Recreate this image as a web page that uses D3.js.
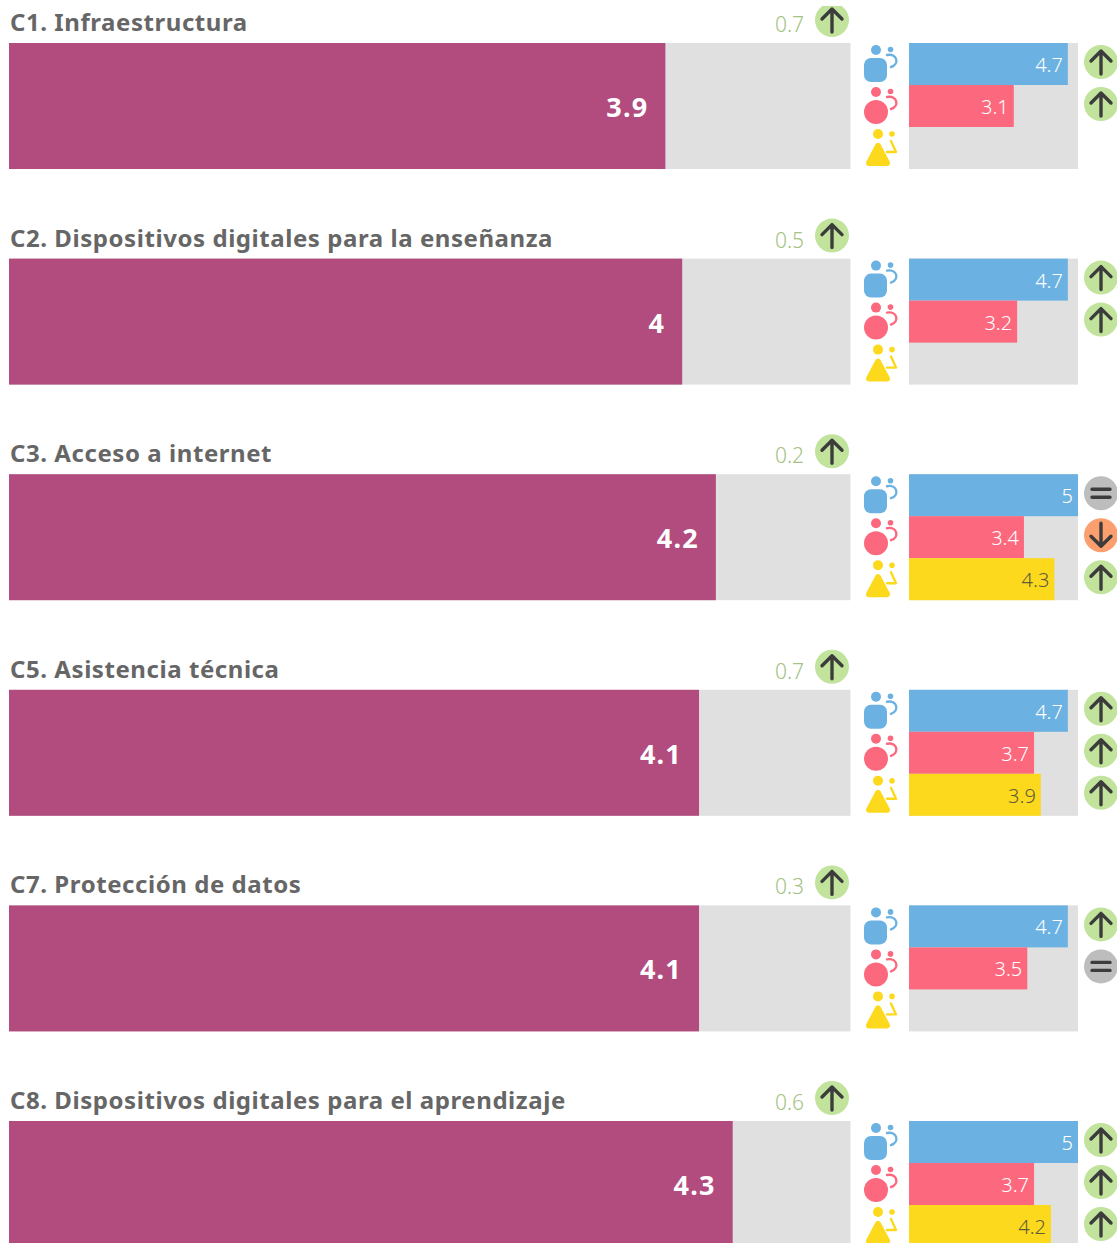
<!DOCTYPE html>
<html>
<head>
<meta charset="utf-8">
<script src="https://cdnjs.cloudflare.com/ajax/libs/d3/7.8.5/d3.min.js"></script>
<style>
  html, body { margin: 0; padding: 0; background: #fff; overflow: hidden; }
  svg { display: block; }
  text { font-family: "Noto Sans", "Open Sans", sans-serif; }
</style>
</head>
<body>
<svg width="1117" height="1243"></svg>
<script>
document.addEventListener("DOMContentLoaded", function () {

  var categories = [
    "C1. Infraestructura",
    "C2. Dispositivos digitales para la enseñanza",
    "C3. Acceso a internet",
    "C5. Asistencia técnica",
    "C7. Protección de datos",
    "C8. Dispositivos digitales para el aprendizaje"
  ];
  var overall = [3.9, 4, 4.2, 4.1, 4.1, 4.3];
  var change = [0.7, 0.5, 0.2, 0.7, 0.3, 0.6];
  var changeDir = ["up", "up", "up", "up", "up", "up"];

  var groups = ["blue", "pink", "yellow"];
  var blueValues = [4.7, 4.7, 5, 4.7, 4.7, 5];
  var pinkValues = [3.1, 3.2, 3.4, 3.7, 3.5, 3.7];
  var yellowValues = [null, null, 4.3, 3.9, null, 4.2];
  var blueDir = ["up", "up", "same", "up", "up", "up"];
  var pinkDir = ["up", "up", "down", "up", "same", "up"];
  var yellowDir = [null, null, "up", "up", null, "up"];

  var groupColor = d3.scaleOrdinal()
    .domain(groups)
    .range(["#6bb2e3", "#fc687d", "#fcd91c"]);
  var badgeColor = d3.scaleOrdinal()
    .domain(["up", "same", "down"])
    .range(["#c1e39c", "#bdbdbd", "#fb9f6f"]);

  var rowY = d3.scalePoint().domain(categories).range([43, 1121]);
  var xMain = d3.scaleLinear().domain([0, 5]).range([9, 850.5]);
  var xSub = d3.scaleLinear().domain([0, 5]).range([909, 1078]);
  var ySub = d3.scaleBand().domain(groups).range([0, 126]);

  var svg = d3.select("svg");

  var rows = svg.selectAll("g.row")
    .data(categories)
    .enter()
    .append("g")
    .attr("class", "row")
    .attr("transform", function (d) {
      return "translate(0," + rowY(d) + ")";
    });

  rows.append("text")
    .attr("x", 10)
    .attr("y", -12)
    .attr("font-size", 24)
    .attr("font-weight", 700)
    .attr("letter-spacing", 0.56)
    .attr("fill", "#666666")
    .text(function (d) { return d; });

  rows.append("rect")
    .attr("x", xMain(0))
    .attr("width", xMain(5) - xMain(0))
    .attr("height", 126)
    .attr("fill", "#e0e0e0");

  rows.append("rect")
    .attr("x", xMain(0))
    .attr("width", function (d, i) { return xMain(overall[i]) - xMain(0); })
    .attr("height", 126)
    .attr("fill", "#b24c7e");

  rows.append("text")
    .attr("x", function (d, i) { return xMain(overall[i]) - 17; })
    .attr("y", 74)
    .attr("text-anchor", "end")
    .attr("font-size", 27)
    .attr("font-weight", 700)
    .attr("letter-spacing", 1.2)
    .attr("fill", "#fff")
    .text(function (d, i) { return overall[i]; });

  rows.append("text")
    .attr("x", 775)
    .attr("y", -11)
    .attr("font-size", 21)
    .attr("font-weight", 300)
    .attr("fill", "#a3c283")
    .text(function (d, i) { return change[i]; });

  rows.append("rect")
    .attr("x", xSub(0))
    .attr("width", xSub(5) - xSub(0))
    .attr("height", 126)
    .attr("fill", "#e0e0e0");

  rows.each(function (d, i) {
    var row = d3.select(this);
    badge(row, 832, -23, changeDir[i]);

    var vals = [blueValues[i], pinkValues[i], yellowValues[i]];
    var dirs = [blueDir[i], pinkDir[i], yellowDir[i]];

    groups.forEach(function (g, k) {
      var top = ySub(g);
      icon(row, g, top);
      if (vals[k] === null) return;
      row.append("rect")
        .attr("x", xSub(0))
        .attr("y", top)
        .attr("width", xSub(vals[k]) - xSub(0))
        .attr("height", ySub.bandwidth())
        .attr("fill", groupColor(g));
      row.append("text")
        .attr("x", xSub(vals[k]) - 5)
        .attr("y", top + 29)
        .attr("text-anchor", "end")
        .attr("font-size", 20)
        .attr("font-weight", 300)
        .attr("fill", g === "yellow" ? "#5f5c3c" : "#fff")
        .text(vals[k]);
      badge(row, 1101, top + 19, dirs[k]);
    });
  });

  // the source image is cut just above the first badge
  svg.append("rect")
    .attr("width", 1117)
    .attr("height", 6)
    .attr("fill", "#fff");

  // round green/grey/orange marker with the arrow or equals sign
  function badge(parent, cx, cy, dir) {
    var b = parent.append("g").attr("transform", "translate(" + cx + "," + cy + ")");
    b.append("circle").attr("r", 17).attr("fill", badgeColor(dir));
    var d;
    if (dir === "up") d = "M0 12V-11M-10 -1L0 -11L10 -1";
    else if (dir === "down") d = "M0 -12V11M-10 1L0 11L10 1";
    else d = "M-9 -4H9M-9 4H9";
    b.append("path")
      .attr("d", d)
      .attr("fill", "none")
      .attr("stroke", "#3c3c3c")
      .attr("stroke-width", 3.4)
      .attr("stroke-linecap", "round")
      .attr("stroke-linejoin", "round");
  }

  // the three little people pictograms next to the small bars
  function icon(parent, g, top) {
    var c = groupColor(g);
    var ic = parent.append("g").attr("transform", "translate(876," + top + ")");
    if (g === "yellow") {
      ic.append("circle").attr("cx", 2).attr("cy", 7).attr("r", 5).attr("fill", c);
      ic.append("circle").attr("cx", 16).attr("cy", 7).attr("r", 2.8).attr("fill", c);
      ic.append("path")
        .attr("d", "M2 19L11 36H-7Z")
        .attr("fill", c)
        .attr("stroke", c)
        .attr("stroke-width", 6)
        .attr("stroke-linejoin", "round");
      ic.append("path")
        .attr("d", "M15 14L20 25H11")
        .attr("fill", "none")
        .attr("stroke", c)
        .attr("stroke-width", 2.4)
        .attr("stroke-linecap", "round")
        .attr("stroke-linejoin", "round");
      return;
    }
    ic.append("circle").attr("cx", 0).attr("cy", 7).attr("r", 5).attr("fill", c);
    ic.append("circle").attr("cx", 14.5).attr("cy", 6.5).attr("r", 2.8).attr("fill", c);
    if (g === "blue") {
      ic.append("rect").attr("x", -12).attr("y", 15).attr("width", 23).attr("height", 24).attr("rx", 7).attr("fill", c);
    } else {
      ic.append("circle").attr("cx", 0).attr("cy", 27).attr("r", 12).attr("fill", c);
    }
    ic.append("path")
      .attr("d", "M11 12C21 10 24 21 15 24")
      .attr("fill", "none")
      .attr("stroke", c)
      .attr("stroke-width", 2.4)
      .attr("stroke-linecap", "round");
  }

});
</script>
</body>
</html>
